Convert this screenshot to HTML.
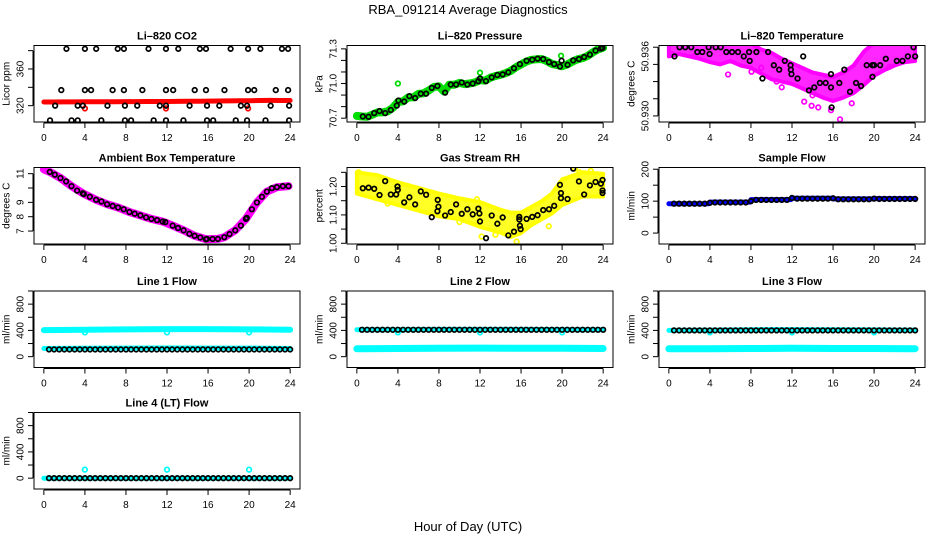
<!DOCTYPE html>
<html><head><meta charset="utf-8">
<style>
html,body{margin:0;padding:0;background:#fff;}
svg{display:block;font-family:"Liberation Sans",Arial,sans-serif;}
</style></head>
<body>
<svg id="fig" width="936" height="540" viewBox="0 0 936 540" xmlns="http://www.w3.org/2000/svg">
<rect x="0" y="0" width="936" height="540" fill="#fff"/>
<text x="468" y="14" text-anchor="middle" font-size="13">RBA_091214  Average Diagnostics</text>
<text x="468" y="531" text-anchor="middle" font-size="13">Hour of Day (UTC)</text>
</svg>
<script>
// ---------- shared ----------
const xTicks = [0,4,8,12,16,20,24];
const flowT = [0.5,1,1.5,2,2.5,3,3.5,4,4.5,5,5.5,6,6.5,7,7.5,8,8.5,9,9.5,10,10.5,11,11.5,12,12.5,13,13.5,14,14.5,15,15.5,16,16.5,17,17.5,18,18.5,19,19.5,20,20.5,21,21.5,22,22.5,23,23.5,24];

// ---------- CO2 ----------
const co2BlackT = [2.2,4.0,5.1,7.2,7.8,10.2,11.9,13.1,15.2,15.8,18.2,19.9,21.1,23.2,23.8,1.7,4.0,4.6,6.7,7.8,9.6,11.9,12.6,14.7,15.8,17.6,19.9,20.5,22.6,23.8,1.1,3.3,3.8,6.2,7.9,9.1,11.3,11.9,14.2,15.9,17.1,19.2,19.8,22.1,23.9,0.6,2.7,3.3,5.6,7.9,8.5,10.7,11.9,13.6,15.9,16.5,18.7,19.8,21.6,23.9];
const co2BlackV = [382,382,382,382,382,382,382,382,382,382,382,382,382,382,382,337,337,337,337,337,337,337,337,337,337,337,337,337,337,337,320,320,320,320,320,320,320,320,320,320,320,320,320,320,320,304,304,304,304,304,304,304,304,304,304,304,304,304,304,304];
const co2RedT = [0,1,2,3,4,5,6,7,8,9,10,11,12,13,14,15,16,17,18,19,20,21,22,23,24];
const co2RedV = [324.0,324.0,324.1,324.1,324.2,324.2,324.3,324.3,324.4,324.4,324.5,324.5,324.6,324.7,324.8,324.9,325.0,325.1,325.2,325.3,325.4,325.6,325.8,325.6,325.6];
const co2RedOutT = [4.0,11.9,19.9];
const co2RedOutV = [317,317,317];
const co2YTicks = [320,340,360,380];
const co2YLabels = ["320","","360",""];

// ---------- Pressure ----------
const presT = [0.58,1.14,1.69,2.21,2.76,3.31,3.89,4.05,4.62,5.12,5.68,6.23,6.75,7.30,7.85,8.60,9.15,9.67,10.22,10.77,11.29,11.84,12.00,12.58,13.14,13.69,14.21,14.76,15.31,15.89,16.54,17.09,17.61,18.16,18.72,19.23,19.79,19.95,20.53,21.08,21.64,22.15,22.71,23.26,23.78,23.94];
const presV = [70.715,70.712,70.744,70.762,70.744,70.771,70.809,70.853,70.844,70.891,70.874,70.912,70.912,70.962,70.979,70.921,70.991,70.991,71.009,70.991,71.000,71.021,71.044,71.021,71.053,71.074,71.079,71.097,71.132,71.168,71.197,71.206,71.215,71.212,71.185,71.168,71.147,71.197,71.162,71.200,71.212,71.229,71.250,71.285,71.303,71.309];
const presGreenT = [0,0.5,1,1.5,2,2.5,3,3.5,4,4.5,5,5.5,6,6.5,7,7.5,8,8.5,9,9.5,10,10.5,11,11.5,12,12.5,13,13.5,14,14.5,15,15.5,16,16.5,17,17.5,18,18.5,19,19.5,20,20.5,21,21.5,22,22.5,23,23.5,24];
const presGreenV = [70.72,70.715,70.712,70.73,70.75,70.75,70.76,70.79,70.84,70.845,70.88,70.88,70.91,70.915,70.94,70.97,70.975,70.93,70.99,70.99,71.005,70.995,71.0,71.01,71.03,71.025,71.05,71.065,71.075,71.09,71.11,71.14,71.165,71.19,71.205,71.21,71.212,71.195,71.17,71.16,71.15,71.165,71.19,71.21,71.22,71.24,71.27,71.295,71.31];
const presOutT = [4.0,12.0,19.9];
const presOutV = [71.0,71.094,71.24];
const presYTicks = [70.7,70.8,70.9,71.0,71.1,71.2,71.3];
const presYLabels = ["70.7","","","71.0","","","71.3"];

// ---------- Li-820 Temperature ----------
const tempT = [0.55,1.04,1.60,2.18,2.77,3.26,3.88,3.97,4.56,5.05,5.60,6.16,6.74,7.30,7.82,7.88,8.53,9.12,9.67,10.23,10.75,11.30,11.86,11.89,11.95,12.54,13.09,13.65,14.17,14.72,15.28,15.80,15.80,15.86,16.61,17.10,17.65,18.24,18.73,19.28,19.84,19.84,20.0,20.59,21.14,22.21,22.77,23.29,23.84,24.0];
const tempV = [50.93520,50.93600,50.93600,50.93600,50.93558,50.93558,50.93600,50.93541,50.93600,50.93600,50.93558,50.93558,50.93558,50.93520,50.93558,50.93481,50.93558,50.93327,50.93558,50.93443,50.93404,50.93481,50.93443,50.93404,50.93365,50.93327,50.93520,50.93223,50.93249,50.93288,50.93288,50.93365,50.93249,50.93074,50.93288,50.93404,50.93211,50.93288,50.93261,50.93443,50.93443,50.93342,50.93443,50.93443,50.93499,50.93481,50.93481,50.93520,50.93600,50.93520];
const tempEnvT = [0,1,2,3,4,5,6,7,8,9,10,11,12,13,14,15,16,17,18,19,20,21,22,23,24];
const tempEnvHi = [50.9364,50.9364,50.9364,50.9364,50.9364,50.9364,50.9364,50.9364,50.9363,50.9358,50.9355,50.9350,50.9346,50.9342,50.9338,50.9336,50.9334,50.9338,50.9344,50.9356,50.9364,50.9364,50.9364,50.9364,50.9364];
const tempEnvLo = [50.9352,50.9354,50.9352,50.9350,50.9347,50.9345,50.9348,50.9344,50.9342,50.9337,50.9332,50.9330,50.9328,50.9324,50.9320,50.9316,50.9313,50.9316,50.9320,50.9327,50.9335,50.9340,50.9344,50.9347,50.9348];
const tempOutT = [5.77,8.05,14.56,13.91,16.68,13.19,15.80,17.82,0.3,2.5,10.5,21.5,11.0,14.0,9.0];
const tempOutV = [50.93362,50.93386,50.93074,50.93089,50.92970,50.93125,50.93050,50.93110,50.93540,50.93520,50.93300,50.93430,50.93250,50.93180,50.93420];
const tempYTicks = [50.930,50.9315,50.933,50.9345,50.936];
const tempYLabels = ["50.930","","","",""];
const tempTopLabelV = [50.9352];
const tempTopLabelText = ["50.936"];

// ---------- Ambient ----------
const ambT = [0.58,1.07,1.62,2.17,2.69,3.24,3.80,3.89,4.48,5.09,5.61,6.16,6.71,7.23,7.78,8.34,8.85,9.41,9.96,10.48,11.03,11.58,11.84,12.55,13.07,13.62,14.18,14.69,15.24,15.80,15.89,16.44,16.96,17.58,18.10,18.65,19.20,19.69,19.78,20.27,20.76,21.25,21.73,22.22,22.71,23.29,23.84];
const ambV = [11.12,10.93,10.70,10.46,10.13,9.82,9.63,9.58,9.39,9.18,9.06,8.87,8.75,8.64,8.52,8.33,8.21,8.09,7.95,7.85,7.76,7.66,7.62,7.38,7.21,7.05,6.81,6.67,6.55,6.43,6.45,6.45,6.45,6.57,6.79,7.05,7.38,7.85,7.92,8.52,8.99,9.39,9.75,9.99,10.06,10.13,10.13];
const ambMagT = [0,0.58,1.62,2.69,3.80,5.09,6.16,7.23,8.34,9.41,10.48,11.58,12.55,13.62,14.69,15.80,16.96,17.58,18.65,19.69,20.76,21.73,22.71,23.84];
const ambMagV = [11.30,11.12,10.70,10.13,9.63,9.18,8.87,8.64,8.33,8.09,7.85,7.66,7.38,7.05,6.67,6.43,6.45,6.57,7.05,7.85,8.99,9.75,10.06,10.13];
const ambYTicks = [7,8,9,10,11];
const ambYLabels = ["7","8","9","","11"];

// ---------- Gas Stream RH ----------
const rhT = [0.58,1.14,1.69,2.21,2.76,3.31,3.83,3.96,3.99,4.61,5.12,5.68,6.23,6.75,7.30,7.85,7.88,7.95,8.60,9.15,9.67,10.22,10.77,11.29,11.84,11.94,12.00,12.59,13.14,13.69,14.21,14.76,15.31,15.83,15.83,15.89,15.96,16.54,17.09,17.61,18.16,18.72,19.23,19.79,19.89,19.89,20.53,21.08,21.64,22.15,22.71,23.26,23.78,23.94,23.94,23.94];
const rhV = [1.194,1.196,1.192,1.170,1.219,1.172,1.172,1.200,1.188,1.144,1.162,1.137,1.183,1.171,1.092,1.113,1.153,1.129,1.098,1.110,1.137,1.104,1.120,1.102,1.122,1.105,1.077,1.018,1.098,1.069,1.091,1.028,1.041,1.093,1.084,1.062,1.050,1.086,1.093,1.099,1.117,1.120,1.132,1.206,1.177,1.159,1.156,1.263,1.218,1.172,1.204,1.216,1.210,1.223,1.186,1.177];
const rhEnvT = [0,2,4,6,8,10,12,14,15,16,17,18,19,20,22,24];
const rhEnvHi = [1.250,1.240,1.215,1.195,1.175,1.158,1.145,1.118,1.108,1.108,1.128,1.148,1.175,1.225,1.250,1.245];
const rhEnvLo = [1.175,1.155,1.135,1.115,1.095,1.085,1.058,1.038,1.022,1.036,1.064,1.085,1.105,1.135,1.165,1.165];
const rhOutT = [21.25,21.7,12.16,15.57,0.16,11.7,7.8,18.7,3.0,10.0,13.5,22.8];
const rhOutV = [1.263,1.250,1.024,1.006,1.250,1.155,1.165,1.060,1.140,1.075,1.030,1.255];
const rhYTicks = [1.00,1.05,1.10,1.15,1.20,1.25];
const rhYLabels = ["1.00","","1.10","","1.20",""];

// ---------- Sample Flow ----------
const sampBlueT = [0,3.9,4.0,7.9,8.0,11.9,12.0,15.9,16.0,19.9,20.0,24];
const sampBlueV = [92,92,97,97,105,105,109,109,107,107,108,108];
const sampBlackV = [92,92,92,92,92,92,92,95,96,96,96,96,96,96,96,100,104,104,104,104,104,104,104,110,108,108,108,108,108,108,108,109,106,106,106,106,106,106,106,108,107,107,107,107,107,107,107,107];
const sampYTicks = [0,50,100,150,200];
const sampYLabels = ["0","","100","","200"];

// ---------- Line flows ----------
const flowYTicks = [0,200,400,600,800,1000];
const flowYLabels = ["0","","400","","800",""];
const bandT = [0,4,8,12,16,20,24];
const line1UpperV = [405,410,415,420,420,415,410];
const line1LowerV = [125,128,130,132,130,130,125];
const line1BlackV = [110,110,110,110,110,110,110,110,110,110,110,110,110,110,110,110,110,110,110,110,110,110,110,110,110,110,110,110,110,110,110,110,110,110,110,110,110,110,110,110,110,110,110,110,110,110,110,110];
const line1DipT = [4,12,20];
const line1DipV = [370,370,370];
const line2UpperV = [410,410,415,415,415,412,410];
const line2LowerV = [120,125,128,130,128,128,125];
const line2BlackV = [410,410,410,410,410,410,410,410,410,410,410,410,410,410,410,410,410,410,410,410,410,410,410,410,410,410,410,410,410,410,410,410,410,410,410,410,410,410,410,410,410,410,410,410,410,410,410,410];
const line2DipT = [4,12,20];
const line2DipV = [370,370,370];
const line3UpperV = [400,405,410,412,410,408,405];
const line3LowerV = [120,122,125,128,125,125,122];
const line3BlackV = [400,400,400,400,400,400,400,400,400,400,400,400,400,400,400,400,400,400,400,400,400,400,400,400,400,400,400,400,400,400,400,400,400,400,400,400,400,400,400,400,400,400,400,400,400,400,400,400];
const line3DipT = [4,12,20];
const line3DipV = [370,370,370];
const line4CyanV = [0,0,0,0,0,0,0];
const line4BlackV = [0,0,0,0,0,0,0,0,0,0,0,0,0,0,0,0,0,0,0,0,0,0,0,0,0,0,0,0,0,0,0,0,0,0,0,0,0,0,0,0,0,0,0,0,0,0,0,0];
const line4OutT = [4,12,20];
const line4OutV = [130,130,130];

// ---------- drawing ----------
const NS = "http://www.w3.org/2000/svg";
const svg = document.getElementById("fig");
const colL = [34,347,659], colW = 266;
const rowT = [45.5,167.5,291,412.5], rowH = 76.5;
const XLIM = [-0.96,24.96];
let clipN = 0;

function mk(tag, attrs, parent){
  const e = document.createElementNS(NS, tag);
  for (const k in attrs) e.setAttribute(k, attrs[k]);
  (parent||svg).appendChild(e);
  return e;
}

function yLabel(p, v, text, parent){
  const tl = mk("text", {x: 0, y: 0, "text-anchor": "middle", "font-size": 10, "dominant-baseline": "central",
    transform: "translate(" + (p.L-13) + "," + p.sy(v) + ") rotate(-90)"}, parent);
  tl.textContent = text;
  
  
}

function makePanel(name, col, row, title, ylab, ylim, yTicks, yLabels){
  const L = colL[col], T = rowT[row], W = colW, H = rowH;
  const g = mk("g", {});
  
  
  const sx = v => L + (v - XLIM[0]) / (XLIM[1] - XLIM[0]) * W;
  const sy = v => T + H - (v - ylim[0]) / (ylim[1] - ylim[0]) * H;
  const id = "clip" + (clipN++);
  const cp = mk("clipPath", {id: id}, g);
  mk("rect", {x: L, y: T, width: W, height: H}, cp);
  const plot = mk("g", {"clip-path": "url(#" + id + ")"}, g);
  
  
  const t = mk("text", {x: L + W/2, y: T - 6, "text-anchor": "middle", "font-size": 11, "font-weight": "bold"}, g);
  t.textContent = title;
  
  
  const b = mk("rect", {x: L, y: T, width: W, height: H, fill: "none", stroke: "#000", "stroke-width": 1}, g);
  
  
  const xa = mk("g", {}, g);
  
  
  mk("line", {x1: sx(xTicks[0]), x2: sx(xTicks[xTicks.length-1]), y1: T+H+1, y2: T+H+1, stroke: "#000"}, xa);
  xTicks.forEach(v => {
    mk("line", {x1: sx(v), x2: sx(v), y1: T+H+1, y2: T+H+6, stroke: "#000"}, xa);
    const tl = mk("text", {x: sx(v), y: T+H+19, "text-anchor": "middle", "font-size": 10}, xa);
    tl.textContent = String(v);
    
    
  });
  const ya = mk("g", {}, g);
  
  
  const p = {plot, sx, sy, name, L, ya};
  mk("line", {x1: L-1, x2: L-1, y1: sy(yTicks[0]), y2: sy(yTicks[yTicks.length-1]), stroke: "#000"}, ya);
  yTicks.forEach((v, i) => {
    mk("line", {x1: L-6, x2: L-1, y1: sy(v), y2: sy(v), stroke: "#000"}, ya);
    if (yLabels[i]) yLabel(p, v, yLabels[i], ya);
  });
  const yl = mk("text", {x: 0, y: 0, "text-anchor": "middle", "font-size": 10, "dominant-baseline": "central",
    transform: "translate(" + (L-27) + "," + (T+H/2) + ") rotate(-90)"}, g);
  yl.textContent = ylab;
  
  
  return p;
}

function points(p, ts, vs, color, label){
  const g = mk("g", {}, p.plot);
  
  
  ts.forEach((t, i) => {
    const c = mk("circle", {cx: p.sx(t), cy: p.sy(vs[i]), r: 2.3, fill: "none", stroke: color, "stroke-width": 1.7}, g);
    
    
  });
}
function band(p, ts, vs, color, width, label){
  const d = ts.map((t, i) => (i ? "L" : "M") + p.sx(t).toFixed(1) + "," + p.sy(vs[i]).toFixed(1)).join("");
  const e = mk("path", {d: d, fill: "none", stroke: color, "stroke-width": width, "stroke-linejoin": "round", "stroke-linecap": "round"}, p.plot);
  
  
}
function envelope(p, ts, hi, lo, color, label){
  let d = ts.map((t, i) => (i ? "L" : "M") + p.sx(t).toFixed(1) + "," + p.sy(hi[i]).toFixed(1)).join("");
  for (let i = ts.length - 1; i >= 0; i--) d += "L" + p.sx(ts[i]).toFixed(1) + "," + p.sy(lo[i]).toFixed(1);
  d += "Z";
  const e = mk("path", {d: d, fill: color, "fill-opacity": 0.85, stroke: color, "stroke-width": 4, "stroke-linejoin": "round"}, p.plot);
  
  
}

let p = makePanel("co2", 0, 0, "Li\u2013820 CO2", "Licor ppm", [302.2,385.6], co2YTicks, co2YLabels);
band(p, co2RedT, co2RedV, "#ff0000", 5, "red-band");
points(p, co2RedOutT, co2RedOutV, "#ff0000", "red-outliers");
points(p, co2BlackT, co2BlackV, "#000", "hourly-points");

p = makePanel("pressure", 1, 0, "Li\u2013820 Pressure", "kPa", [70.667,71.329], presYTicks, presYLabels);
band(p, presGreenT, presGreenV, "#00dd00", 8, "green-band");
points(p, presOutT, presOutV, "#00dd00", "green-outliers");
points(p, presT, presV, "#000", "hourly-points");

p = makePanel("li820-temp", 2, 0, "Li\u2013820 Temperature", "degrees C", [50.92947,50.93615], tempYTicks, tempYLabels);
tempTopLabelV.forEach((v, i) => yLabel(p, v, tempTopLabelText[i], p.ya));
envelope(p, tempEnvT, tempEnvHi, tempEnvLo, "#ff00ff", "magenta-cloud");
points(p, tempOutT, tempOutV, "#ff00ff", "magenta-outliers");
points(p, tempT, tempV, "#000", "hourly-points");

p = makePanel("ambient-temp", 0, 1, "Ambient Box Temperature", "degrees C", [6.097,11.43], ambYTicks, ambYLabels);
band(p, ambMagT, ambMagV, "#ff00ff", 8, "magenta-band");
points(p, ambT, ambV, "#000", "hourly-points");

p = makePanel("gas-rh", 1, 1, "Gas Stream RH", "percent", [0.9975,1.267], rhYTicks, rhYLabels);
envelope(p, rhEnvT, rhEnvHi, rhEnvLo, "#ffff00", "yellow-cloud");
points(p, rhOutT, rhOutV, "#ffff00", "yellow-outliers");
points(p, rhT, rhV, "#000", "hourly-points");

p = makePanel("sample-flow", 2, 1, "Sample Flow", "ml/min", [-34.2,205.4], sampYTicks, sampYLabels);
band(p, sampBlueT, sampBlueV, "#0000ff", 5, "blue-band");
points(p, flowT, sampBlackV, "#000", "hourly-points");

p = makePanel("line1-flow", 0, 2, "Line 1 Flow", "ml/min", [-165,1000], flowYTicks, flowYLabels);
band(p, bandT, line1UpperV, "#00ffff", 6, "cyan-upper-band");
band(p, bandT, line1LowerV, "#00ffff", 5, "cyan-lower-band");
points(p, line1DipT, line1DipV, "#00ffff", "cyan-dips");
points(p, flowT, line1BlackV, "#000", "hourly-points");

p = makePanel("line2-flow", 1, 2, "Line 2 Flow", "ml/min", [-165,1000], flowYTicks, flowYLabels);
band(p, bandT, line2UpperV, "#00ffff", 5, "cyan-upper-band");
band(p, bandT, line2LowerV, "#00ffff", 7, "cyan-lower-band");
points(p, line2DipT, line2DipV, "#00ffff", "cyan-dips");
points(p, flowT, line2BlackV, "#000", "hourly-points");

p = makePanel("line3-flow", 2, 2, "Line 3 Flow", "ml/min", [-165,1000], flowYTicks, flowYLabels);
band(p, bandT, line3UpperV, "#00ffff", 5, "cyan-upper-band");
band(p, bandT, line3LowerV, "#00ffff", 7, "cyan-lower-band");
points(p, line3DipT, line3DipV, "#00ffff", "cyan-dips");
points(p, flowT, line3BlackV, "#000", "hourly-points");

p = makePanel("line4-flow", 0, 3, "Line 4 (LT) Flow", "ml/min", [-165,1000], flowYTicks, flowYLabels);
band(p, bandT, line4CyanV, "#00ffff", 5, "cyan-band");
points(p, line4OutT, line4OutV, "#00ffff", "cyan-outliers");
points(p, flowT, line4BlackV, "#000", "hourly-points");
</script>
</body></html>
